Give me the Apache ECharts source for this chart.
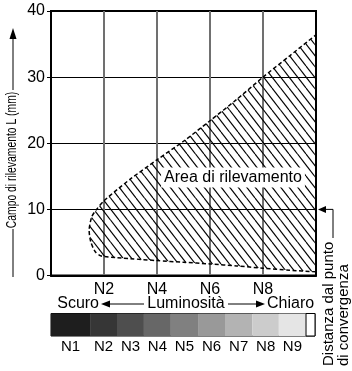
<!DOCTYPE html>
<html><head><meta charset="utf-8">
<script src="https://cdn.jsdelivr.net/npm/echarts@6/dist/echarts.min.js"></script>
<style>html,body{margin:0;padding:0;background:#fff}#c{width:352px;height:371px}</style>
</head><body><div id="c"></div>
<script>
// ---- data ----
const xTickValues = [2, 4, 6, 8];
const xTickLabels = ['N2', 'N4', 'N6', 'N8'];
const yTickValues = [0, 10, 20, 30, 40];
// outline of the detection area: lower edge from right to left, round the nose, upper edge to the right
const areaX = [10, 9, 8, 7, 6, 5, 4, 3, 2.5, 1.9, 1.67, 1.5, 1.44, 1.54, 1.72, 2, 2.5, 3, 4, 5, 6, 7, 8, 9, 10];
const areaY = [0.55, 0.8, 1.1, 1.45, 1.75, 2.0, 2.25, 2.55, 2.7, 2.95, 3.6, 5.1, 6.9, 8.9, 10, 11.3, 13, 14.6, 17.5, 20.3, 23.4, 26.6, 30, 33.2, 36.4];
const areaLabel = 'Area di rilevamento';
// luminance scale cells (in N units of the x axis)
const scaleNames = ['N1', 'N2', 'N3', 'N4', 'N5', 'N6', 'N7', 'N8', 'N9', ''];
const scaleStart = [0, 1.48, 2.5, 3.52, 4.54, 5.57, 6.59, 7.63, 8.63, 9.66];
const scaleEnd = [1.48, 2.5, 3.52, 4.54, 5.57, 6.59, 7.63, 8.63, 9.66, 10];
const pointerValue = 10;
// ---- styles ----
const scaleColors = ['#1e1e1e', '#363636', '#4e4e4e', '#676767', '#808080', '#999999', '#b3b3b3', '#cccccc', '#e5e5e5', '#ffffff'];
const FONT = '"Liberation Sans", Arial, Helvetica, sans-serif';

const tile = document.createElement('canvas');
tile.width = 17; tile.height = 22;
const g = tile.getContext('2d');
g.strokeStyle = '#000'; g.lineWidth = 1.15;
for (const off of [-17, -8.5, 0, 8.5, 17]) {
  g.beginPath(); g.moveTo(off, 0); g.lineTo(off + 17, 22); g.stroke();
}

const chart = echarts.init(document.getElementById('c'), null, {renderer: 'canvas'});
const option = {
  animation: false,
  backgroundColor: '#fff',
  textStyle: {fontFamily: FONT},
  grid: [
    {left: 51, top: 11, right: 36, bottom: 95.5, show: true, borderColor: '#000', borderWidth: 2, backgroundColor: 'transparent'},
    {left: 51, right: 37, top: 313.5, height: 22.5, show: true, borderColor: '#000', borderWidth: 1}
  ],
  xAxis: [
    {type: 'value', gridIndex: 0, min: 0, max: 10, interval: 2,
     axisLine: {show: true, lineStyle: {color: '#000', width: 2}},
     axisTick: {show: false},
     axisLabel: {show: true, margin: 6, fontSize: 16, color: '#000', fontFamily: FONT,
       formatter: v => { const i = xTickValues.indexOf(v); return i >= 0 ? xTickLabels[i] : ''; }},
     splitLine: {show: true, showMinLine: false, showMaxLine: false, lineStyle: {color: '#707070', width: 2}}},
    {type: 'value', gridIndex: 1, min: 0, max: 10, show: false}
  ],
  yAxis: [
    {type: 'value', gridIndex: 0, min: 0, max: 40, interval: 10,
     axisLine: {show: true, lineStyle: {color: '#000', width: 2}},
     axisTick: {show: true, length: 4, lineStyle: {color: '#000', width: 1}},
     axisLabel: {margin: 6, fontSize: 16, color: '#000', fontFamily: FONT,
       formatter: v => yTickValues.indexOf(v) >= 0 ? String(v) : ''},
     splitLine: {show: true, showMinLine: false, showMaxLine: false, lineStyle: {color: '#000', width: 1.2}}},
    {type: 'value', gridIndex: 1, min: 0, max: 1, show: false}
  ],
  series: [
    {
      type: 'custom', xAxisIndex: 0, yAxisIndex: 0, z: 3,
      data: areaX.map((x, i) => [x, areaY[i]]),
      encode: {x: 0, y: 1},
      renderItem: (params, api) => {
        if (params.dataIndex !== 0) return null;
        const pts = areaX.map((x, i) => api.coord([x, areaY[i]]));
        return {
          type: 'group',
          children: [
            {type: 'polygon', shape: {points: pts, smooth: 0}, style: {fill: {image: tile, repeat: 'repeat'}, stroke: null}},
            {type: 'polyline', shape: {points: pts, smooth: 0.25}, style: {fill: null, stroke: '#000', lineWidth: 1.5, lineDash: [4, 2.5]}}
          ]
        };
      }
    },
    {
      type: 'custom', xAxisIndex: 1, yAxisIndex: 1,
      data: scaleStart.map((s, i) => [s, scaleEnd[i], i]),
      encode: {x: [0, 1]},
      renderItem: (params, api) => {
        const i = api.value(2);
        const p0 = api.coord([api.value(0), 1]);
        const p1 = api.coord([api.value(1), 0]);
        const children = [
          {type: 'rect', shape: {x: p0[0], y: p0[1], width: p1[0] - p0[0], height: p1[1] - p0[1]},
           style: {fill: scaleColors[i], stroke: i === scaleNames.length - 1 ? '#000' : null, lineWidth: 1}}
        ];
        if (scaleNames[i]) {
          children.push({type: 'text', style: {text: scaleNames[i], x: (p0[0] + p1[0]) / 2, y: p1[1] + 11,
            align: 'center', verticalAlign: 'middle', font: '15px ' + FONT, fill: '#000'}});
        }
        return {type: 'group', children};
      }
    }
  ]
};
chart.setOption(option);

const yp = chart.convertToPixel({yAxisIndex: 0}, pointerValue);
chart.setOption({
  graphic: [
    // area label
    {type: 'text', x: 233, y: 177.5, z: 100,
     style: {text: areaLabel, font: '16px ' + FONT, fill: '#000', align: 'center', verticalAlign: 'middle',
       backgroundColor: '#fff', padding: [2, 3, 2, 3]}},
    // y axis title with arrow
    {type: 'line', shape: {x1: 13, y1: 277, x2: 13, y2: 229}, style: {stroke: '#000', lineWidth: 1}},
    {type: 'text', x: 12.5, y: 160, rotation: Math.PI / 2, scaleX: 0.74,
     style: {text: 'Campo di rilevamento L (mm)', font: '14px ' + FONT, fill: '#000', align: 'center', verticalAlign: 'middle'}},
    {type: 'line', shape: {x1: 13, y1: 90, x2: 13, y2: 37}, style: {stroke: '#000', lineWidth: 1}},
    {type: 'polygon', shape: {points: [[13, 28], [9.5, 39], [16.5, 39]]}, style: {fill: '#000'}},
    // luminosity row
    {type: 'text', x: 99, y: 304, style: {text: 'Scuro', font: '16px ' + FONT, fill: '#000', align: 'right', verticalAlign: 'middle'}},
    {type: 'polygon', shape: {points: [[101, 304], [110, 300.5], [110, 307.5]]}, style: {fill: '#000'}},
    {type: 'line', shape: {x1: 110, y1: 304, x2: 144, y2: 304}, style: {stroke: '#000', lineWidth: 1}},
    {type: 'text', x: 186, y: 304, style: {text: 'Luminosità', font: '16px ' + FONT, fill: '#000', align: 'center', verticalAlign: 'middle'}},
    {type: 'line', shape: {x1: 228, y1: 304, x2: 257, y2: 304}, style: {stroke: '#000', lineWidth: 1}},
    {type: 'polygon', shape: {points: [[265, 304], [256, 300.5], [256, 307.5]]}, style: {fill: '#000'}},
    {type: 'text', x: 267, y: 304, style: {text: 'Chiaro', font: '16px ' + FONT, fill: '#000', align: 'left', verticalAlign: 'middle'}},
    // right annotation
    {type: 'text', x: 336, y: 366, rotation: Math.PI / 2,
     style: {text: 'Distanza dal punto\ndi convergenza', font: '15px ' + FONT, lineHeight: 15, fill: '#000', align: 'left', verticalAlign: 'middle'}},
    {type: 'polyline', shape: {points: [[333, 238], [333, yp], [325, yp]]}, style: {stroke: '#000', lineWidth: 1, fill: null}},
    {type: 'polygon', shape: {points: [[318, yp], [326, yp - 3.5], [326, yp + 3.5]]}, style: {fill: '#000'}}
  ]
});
</script></body></html>
